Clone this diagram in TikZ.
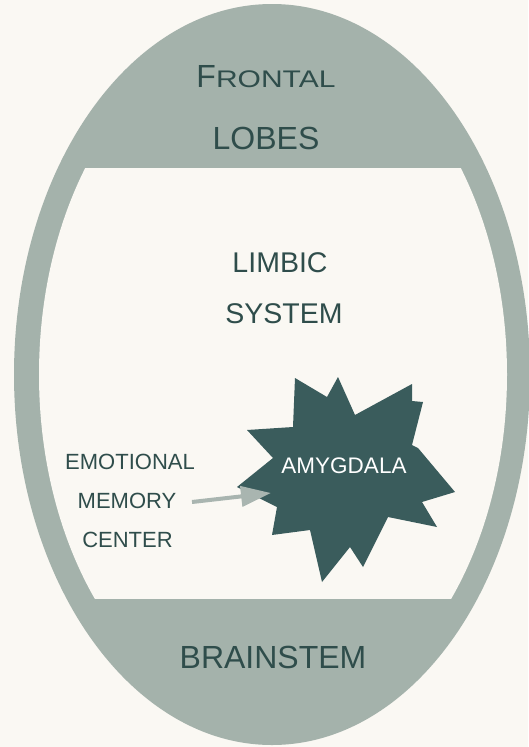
\documentclass[tikz,border=0pt]{standalone}
\usepackage{fontspec}
\setmainfont{Liberation Sans}
\usetikzlibrary{arrows.meta}
\definecolor{bg}{HTML}{FAF8F3}
\definecolor{band}{HTML}{A4B2AB}
\definecolor{ink}{HTML}{2F4D4B}
\definecolor{starc}{HTML}{3A5C5C}
\definecolor{arr}{HTML}{A9B5B0}
\tikzset{
  big/.style={text=ink,inner sep=0pt,anchor=base,font=\fontsize{32}{38}\selectfont},
  mid/.style={text=ink,inner sep=0pt,anchor=base,font=\fontsize{28.5}{34}\selectfont},
  small/.style={text=ink,inner sep=0pt,anchor=base,font=\fontsize{22}{26}\selectfont},
  starlbl/.style={text=white,inner sep=0pt,anchor=base,font=\fontsize{22.5}{26}\selectfont},
  pointer/.style={draw=arr,line width=4pt,-{Triangle[length=30pt,width=20pt]}}
}
\begin{document}
\begin{tikzpicture}[x=1pt,y=-1pt]
\fill[bg] (0,0) rectangle (528,747);
\useasboundingbox (0,0) rectangle (528,747);
% outer ellipse
\fill[band] (272,374.5) ellipse [x radius=258,y radius=370.5];
% inner white region
\begin{scope}
  \clip (0,168) rectangle (528,598);
  \fill[bg] (273,374.5) ellipse [x radius=234,y radius=346];
\end{scope}
% star
\fill[starc] (295,378) -- (327,397) -- (338,377) -- (355,415) -- (412,384)
  -- (412,401) -- (423,402) -- (412,445) -- (418,448) -- (455,492)
  -- (422,502) -- (437,527) -- (388,517) -- (363,567) -- (350,547)
  -- (322,582) -- (310,530) -- (272,535) -- (277,507) -- (237,487)
  -- (273,458) -- (247,430) -- (293,427) -- cycle;
% texts
\node[big] (fr) at (266,87) {F\scalebox{1.25}[1]{\fontsize{24}{28}\selectfont RONTAL}};
\node[big] (lobes) at (266,149) {LOBES};
\node[mid] (limbic) at (280,272) {LIMBIC};
\node[mid] (system) at (284,323) {SYSTEM};
\node[big] (brain) at (273,668) {BRAINSTEM};
\node[small] (emo) at (130,469) {EMOTIONAL};
\node[small] (mem) at (127,508) {MEMORY};
\node[small] (cen) at (127.5,547) {CENTER};
\node[starlbl] (amy) at (344,473) {AMYGDALA};
% arrow
\coordinate (aS) at (192,502);
\coordinate (aT) at (271,493);
\draw[pointer] (aS) -- (aT);
\end{tikzpicture}
\end{document}
